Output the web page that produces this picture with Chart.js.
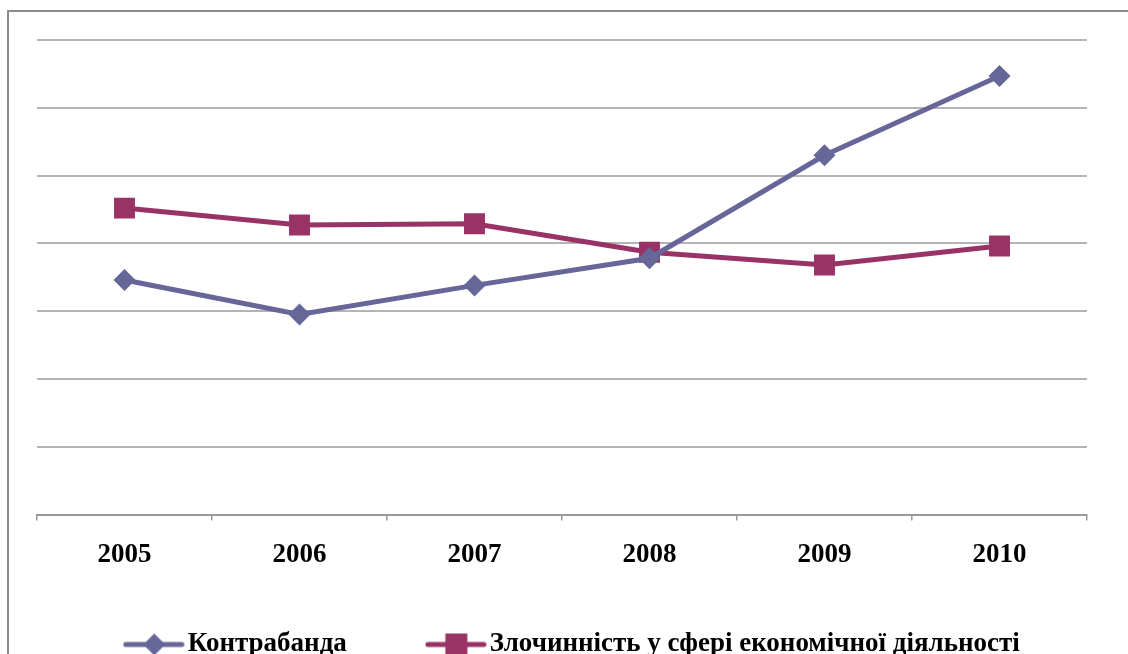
<!DOCTYPE html>
<html>
<head>
<meta charset="utf-8">
<script src="https://cdn.jsdelivr.net/npm/chart.js@4/dist/chart.umd.min.js"></script>
<style>
  html, body { margin: 0; padding: 0; background: #fff; overflow: hidden; }
  #wrap { position: relative; width: 1128px; height: 654px; overflow: hidden; }
  #frame { position: absolute; left: 7px; top: 10px; width: 1200px; height: 700px;
           border-left: 2px solid #8c8c8c; border-top: 2px solid #8c8c8c; }
  #box { position: absolute; left: 0; top: 0; width: 1128px; height: 668px; }
</style>
</head>
<body>
<div id="wrap">
  <div id="frame"></div>
  <div id="box"><canvas id="chart"></canvas></div>
</div>
<script>
const years = ['2005', '2006', '2007', '2008', '2009', '2010'];
const smuggling = [3.46, 2.95, 3.38, 3.78, 5.30, 6.47];
const economicCrime = [4.52, 4.27, 4.29, 3.87, 3.68, 3.96];
const seriesNames = ['Контрабанда', 'Злочинність у сфері економічної діяльності'];

const blue = '#666699';
const plum = '#993366';

// legend symbol: short line with the marker in the middle (left part of the image is empty)
function legendSymbol(color, shape) {
  const c = document.createElement('canvas');
  c.width = 109;
  c.height = 30;
  const g = c.getContext('2d');
  g.strokeStyle = color;
  g.fillStyle = color;
  g.lineWidth = 5;
  g.lineCap = 'round';
  g.beginPath();
  g.moveTo(50, 15);
  g.lineTo(106, 15);
  g.stroke();
  const cx = 78.5;
  g.beginPath();
  if (shape === 'diamond') {
    g.moveTo(cx - 11, 15);
    g.lineTo(cx, 4);
    g.lineTo(cx + 11, 15);
    g.lineTo(cx, 26);
  } else {
    g.rect(cx - 11, 4, 22, 22);
  }
  g.closePath();
  g.fill();
  return c;
}

const symbols = [legendSymbol(blue, 'diamond'), legendSymbol(plum, 'square')];
const serif = "'Liberation Serif', 'Times New Roman', serif";

// nudge the legend a little to the left, like in the original
const legendShift = {
  id: 'legendShift',
  afterLayout(chart) {
    chart.legend.left -= 9;
    chart.legend.right -= 9;
  }
};

new Chart(document.getElementById('chart'), {
  type: 'line',
  data: {
    labels: years,
    datasets: [
      {
        label: seriesNames[0],
        data: smuggling,
        borderColor: blue,
        backgroundColor: blue,
        borderWidth: 5,
        pointStyle: 'rectRot',
        pointRadius: 11,
        pointBorderWidth: 0,
        tension: 0
      },
      {
        label: seriesNames[1],
        data: economicCrime,
        borderColor: plum,
        backgroundColor: plum,
        borderWidth: 5,
        pointStyle: 'rect',
        pointRadius: 14.8,
        pointBorderWidth: 0,
        tension: 0
      }
    ]
  },
  options: {
    responsive: true,
    maintainAspectRatio: false,
    animation: false,
    layout: { padding: { left: 37, right: 41, top: 40, bottom: 0 } },
    plugins: {
      tooltip: { enabled: false },
      legend: {
        position: 'bottom',
        labels: {
          usePointStyle: true,
          pointStyleWidth: 88,
          padding: 41.5,
          color: '#000',
          font: { family: serif, size: 27, weight: 'bold' },
          generateLabels: (chart) => chart.data.datasets.map((ds, i) => ({
            text: ds.label,
            pointStyle: symbols[i],
            fillStyle: ds.borderColor,
            strokeStyle: ds.borderColor,
            lineWidth: 0,
            hidden: false,
            datasetIndex: i,
            fontColor: '#000'
          }))
        }
      }
    },
    scales: {
      x: {
        offset: true,
        grid: { offset: true, drawOnChartArea: false, drawTicks: true, tickLength: 6, color: '#9a9a9a', lineWidth: 1.5 },
        border: { display: true, color: '#9a9a9a', width: 2 },
        ticks: { color: '#000', padding: 18.3, font: { family: serif, size: 27, weight: 'bold' } }
      },
      y: {
        min: 0,
        max: 7,
        ticks: { display: false, stepSize: 1 },
        grid: { color: '#b4b4b4', lineWidth: 2, drawTicks: false },
        border: { display: false }
      }
    }
  },
  plugins: [legendShift]
});
</script>
</body>
</html>
